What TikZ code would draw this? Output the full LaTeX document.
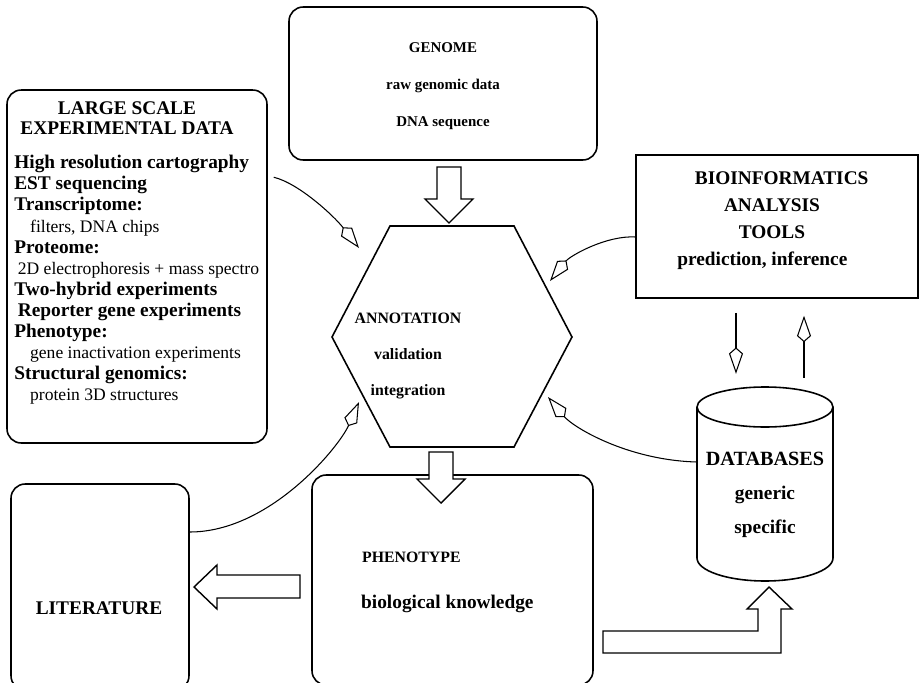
\documentclass[tikz,border=0pt]{standalone}
\usepackage{fontspec}
\setmainfont{Liberation Serif}
\usetikzlibrary{arrows.meta, calc}

\tikzset{
  rbox/.style={draw, line width=0.9pt, rounded corners=8pt},
  sbox/.style={draw, line width=0.9pt},
  blockarrow/.style={draw, line width=0.8pt, fill=white},
  bigfont/.style={font=\bfseries\fontsize{11}{15.3}\selectfont},
  smallfont/.style={font=\bfseries\fontsize{9}{20.5}\selectfont}
}

\begin{document}
\begin{tikzpicture}[x=0.02cm, y=-0.02cm, >={Kite[open, length=15pt, width=8pt, inset=3.5pt]}, every node/.style={font=\bfseries\fontsize{11}{13}\selectfont}]
  \useasboundingbox (0,0) rectangle (924,683);
  % boxes
  \node[rbox, minimum width=6.16cm, minimum height=3.06cm] (genome) at (443,83.5) {};
  \node[align=center, font=\bfseries\fontsize{8.5}{21}\selectfont] (genometext) at (443,86) {GENOME\\raw genomic data\\DNA sequence};
  \node[rbox, minimum width=5.2cm, minimum height=7.06cm] (expdata) at (137,266.5) {};
  \node[align=center, font=\bfseries\fontsize{11}{11.3}\selectfont] (exphead) at (127,118) {LARGE SCALE\\EXPERIMENTAL DATA};
  \node[anchor=north west, align=left, inner sep=0pt, font=\bfseries\fontsize{11}{12}\selectfont] (explist) at (14,155) {High resolution cartography\\
    EST sequencing\\
    Transcriptome:\\
    {\mdseries\fontsize{10}{12}\selectfont\hspace*{9pt}filters, DNA chips}\\
    Proteome:\\
    {\mdseries\fontsize{10}{12}\selectfont\hspace*{2pt}2D electrophoresis + mass spectro}\\
    Two-hybrid experiments\\
    \hspace*{2pt}Reporter gene experiments\\
    Phenotype:\\
    {\mdseries\fontsize{10}{12}\selectfont\hspace*{9pt}gene inactivation experiments}\\
    Structural genomics:\\
    {\mdseries\fontsize{10}{12}\selectfont\hspace*{9pt}protein 3D structures}};
  \node[sbox, minimum width=5.64cm, minimum height=2.86cm] (bioinfo) at (777,226.5) {};
  \node[bigfont, align=center] (biotext) at (772,220.5) {\hspace*{11pt}BIOINFORMATICS\\ANALYSIS\hspace*{2pt}\\TOOLS\hspace*{8pt}\\prediction, inference\hspace*{11pt}};
  \node[smallfont, align=center] (annot) at (408,356) {ANNOTATION\\validation\\integration};
  \draw[line width=0.9pt] (332,337) -- (390,226) -- (514,226) -- (572,337) -- (514,447) -- (390,447) -- cycle;
  \node[rbox, minimum width=5.62cm, minimum height=4.2cm] (pheno) at (452.5,580) {};
  \node[anchor=west, font=\bfseries\fontsize{9}{11}\selectfont] (phenohead) at (356,557) {PHENOTYPE};
  \node[anchor=west] (phenotext) at (355,604) {biological knowledge};
  \node[rbox, minimum width=3.56cm, minimum height=4.12cm] (lit) at (100,587) {};
  \node (littext) at (99,608) {LITERATURE};
  % database cylinder
  \draw[line width=0.9pt] (697,407) -- (697,558) arc[start angle=180, end angle=0, x radius=68, y radius=23] -- (833,407);
  \draw[line width=0.9pt] (765,407) ellipse[x radius=68, y radius=20];
  \node[align=center, minimum width=2.72cm, inner xsep=0pt, font=\bfseries\fontsize{11}{19.5}\selectfont] (db) at (765,495) {{\fontsize{11.5}{12}\selectfont DATABASES}\\generic\\specific};
  % block arrows
  \draw[blockarrow] (437,167) -- (461,167) -- (461,199) -- (473,199) -- (449,223) -- (425,199) -- (437,199) -- cycle;
  \draw[blockarrow] (429,452) -- (453,452) -- (453,479) -- (465,479) -- (441,503) -- (417,479) -- (429,479) -- cycle;
  \draw[blockarrow] (300,575) -- (217,575) -- (217,565) -- (194,587) -- (217,609) -- (217,598) -- (300,598) -- cycle;
  \draw[blockarrow] (603,631) -- (758,631) -- (758,609) -- (747,609) -- (769,587) -- (792,609) -- (781,609) -- (781,653) -- (603,653) -- cycle;
  % curved links into annotation
  \coordinate (t1) at (359,248);
  \coordinate (t2) at (550,281);
  \coordinate (t3) at (548,397);
  \coordinate (t4) at (359,402);
  \draw[->, line width=0.6pt] ($(expdata.north east)+(6,88)$) .. controls +(25,6) and +(-25,-32) .. (t1);
  \draw[->, line width=0.6pt] ($(bioinfo.west)+(1,10.5)$) .. controls +(-30,-2) and +(20,-25) .. (t2);
  \draw[->, line width=0.6pt] ($(db.west)+(0,-33)$) .. controls +(-70,-2) and +(25,30) .. (t3);
  \draw[->, line width=0.6pt] ($(lit.east)+(0,-55)$) .. controls +(80,0) and +(-20,45) .. (t4);
  % bioinformatics <-> databases
  \draw[->, line width=0.6pt] ($(bioinfo.south)+(-41,14)$) -- ($(bioinfo.south)+(-41,75)$);
  \draw[->, line width=0.6pt] ($(bioinfo.south)+(27,79)$) -- ($(bioinfo.south)+(27,17)$);
\end{tikzpicture}
\end{document}
